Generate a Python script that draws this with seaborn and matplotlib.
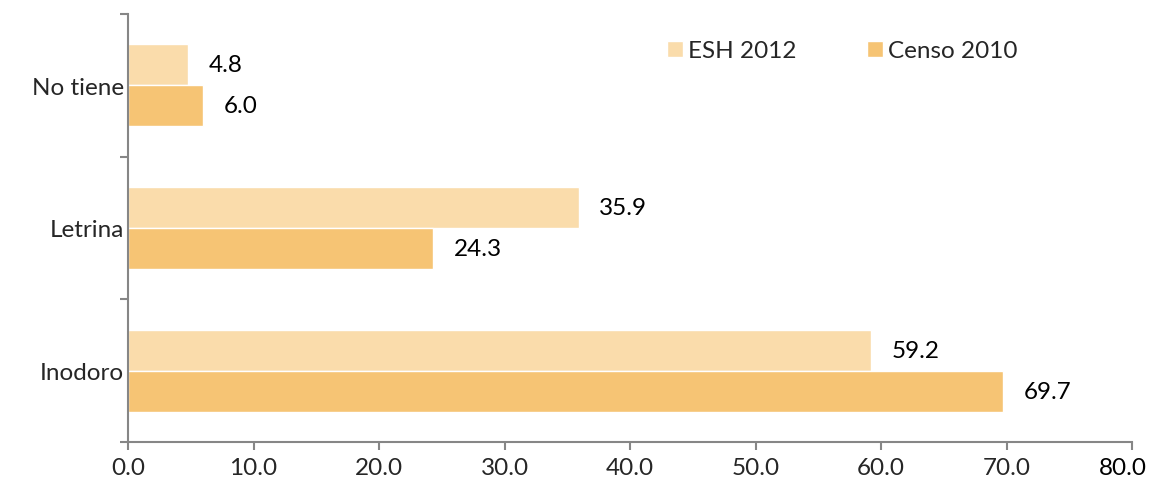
import matplotlib
matplotlib.use("Agg")
import matplotlib.pyplot as plt
import seaborn as sns
import pandas as pd
from matplotlib.ticker import FixedLocator

categories = ["No tiene", "Letrina", "Inodoro"]
series = ["ESH 2012", "Censo 2010"]
esh_2012 = [4.8, 35.9, 59.2]
censo_2010 = [6.0, 24.3, 69.7]
x_ticks = [0, 10, 20, 30, 40, 50, 60, 70, 80]

colors = {"ESH 2012": "#FADCAB", "Censo 2010": "#F6C474"}

df = pd.DataFrame({
    "categoria": categories * 2,
    "serie": [series[0]] * 3 + [series[1]] * 3,
    "valor": esh_2012 + censo_2010,
})

sns.set_theme(style="white")
plt.rcParams["font.family"] = ["Lato", "DejaVu Sans"]
FS = 17.5

fig = plt.figure(figsize=(11.51, 4.89), dpi=100)
ax = fig.add_axes([0.1112, 0.0941, 0.8724, 0.8752])

sns.barplot(data=df, y="categoria", x="valor", hue="serie", order=categories,
            hue_order=series, palette=colors, orient="h", width=0.575,
            saturation=1, ax=ax, errorbar=None)

for cont in ax.containers:
    ax.bar_label(cont, fmt="%.1f", padding=15, fontsize=FS, color="#000000")

ax.set_xlim(0, 80)
ax.set_ylim(2.5, -0.5)
ax.xaxis.set_major_locator(FixedLocator(x_ticks))
# the last label is placed separately so it stays inside the canvas
labels = [f"{v:.1f}" for v in x_ticks]
ax.set_xticklabels(labels[:-1] + [""], fontsize=FS)
ax.annotate(labels[-1], xy=(x_ticks[-1], 0), xycoords=("data", "axes fraction"),
            xytext=(-7, -11), textcoords="offset points", ha="center", va="top",
            fontsize=FS, color="#000000", annotation_clip=False)
ax.set_xlabel("")
ax.set_ylabel("")

# category labels without marks, separator ticks between categories
ax.tick_params(axis="y", which="major", length=0, labelsize=FS, pad=3)
ax.yaxis.set_minor_locator(FixedLocator([-0.5, 0.5, 1.5, 2.5]))
ax.tick_params(axis="y", which="minor", left=True, length=6, width=1.5,
               color="#868686", direction="out")
ax.tick_params(axis="x", which="major", bottom=True, length=6, width=1.5,
               color="#868686", direction="out", pad=5)

for side in ["top", "right"]:
    ax.spines[side].set_visible(False)
for side in ["left", "bottom"]:
    ax.spines[side].set_color("#868686")
    ax.spines[side].set_linewidth(1.5)

ax.legend(loc="center left", bbox_to_anchor=(0.537, 0.9136), ncol=2, frameon=False,
          fontsize=FS, handlelength=0.66, handleheight=0.66, handletextpad=0.2,
          columnspacing=2.9, borderaxespad=0, borderpad=0)

fig.savefig("out.png", dpi=100)
